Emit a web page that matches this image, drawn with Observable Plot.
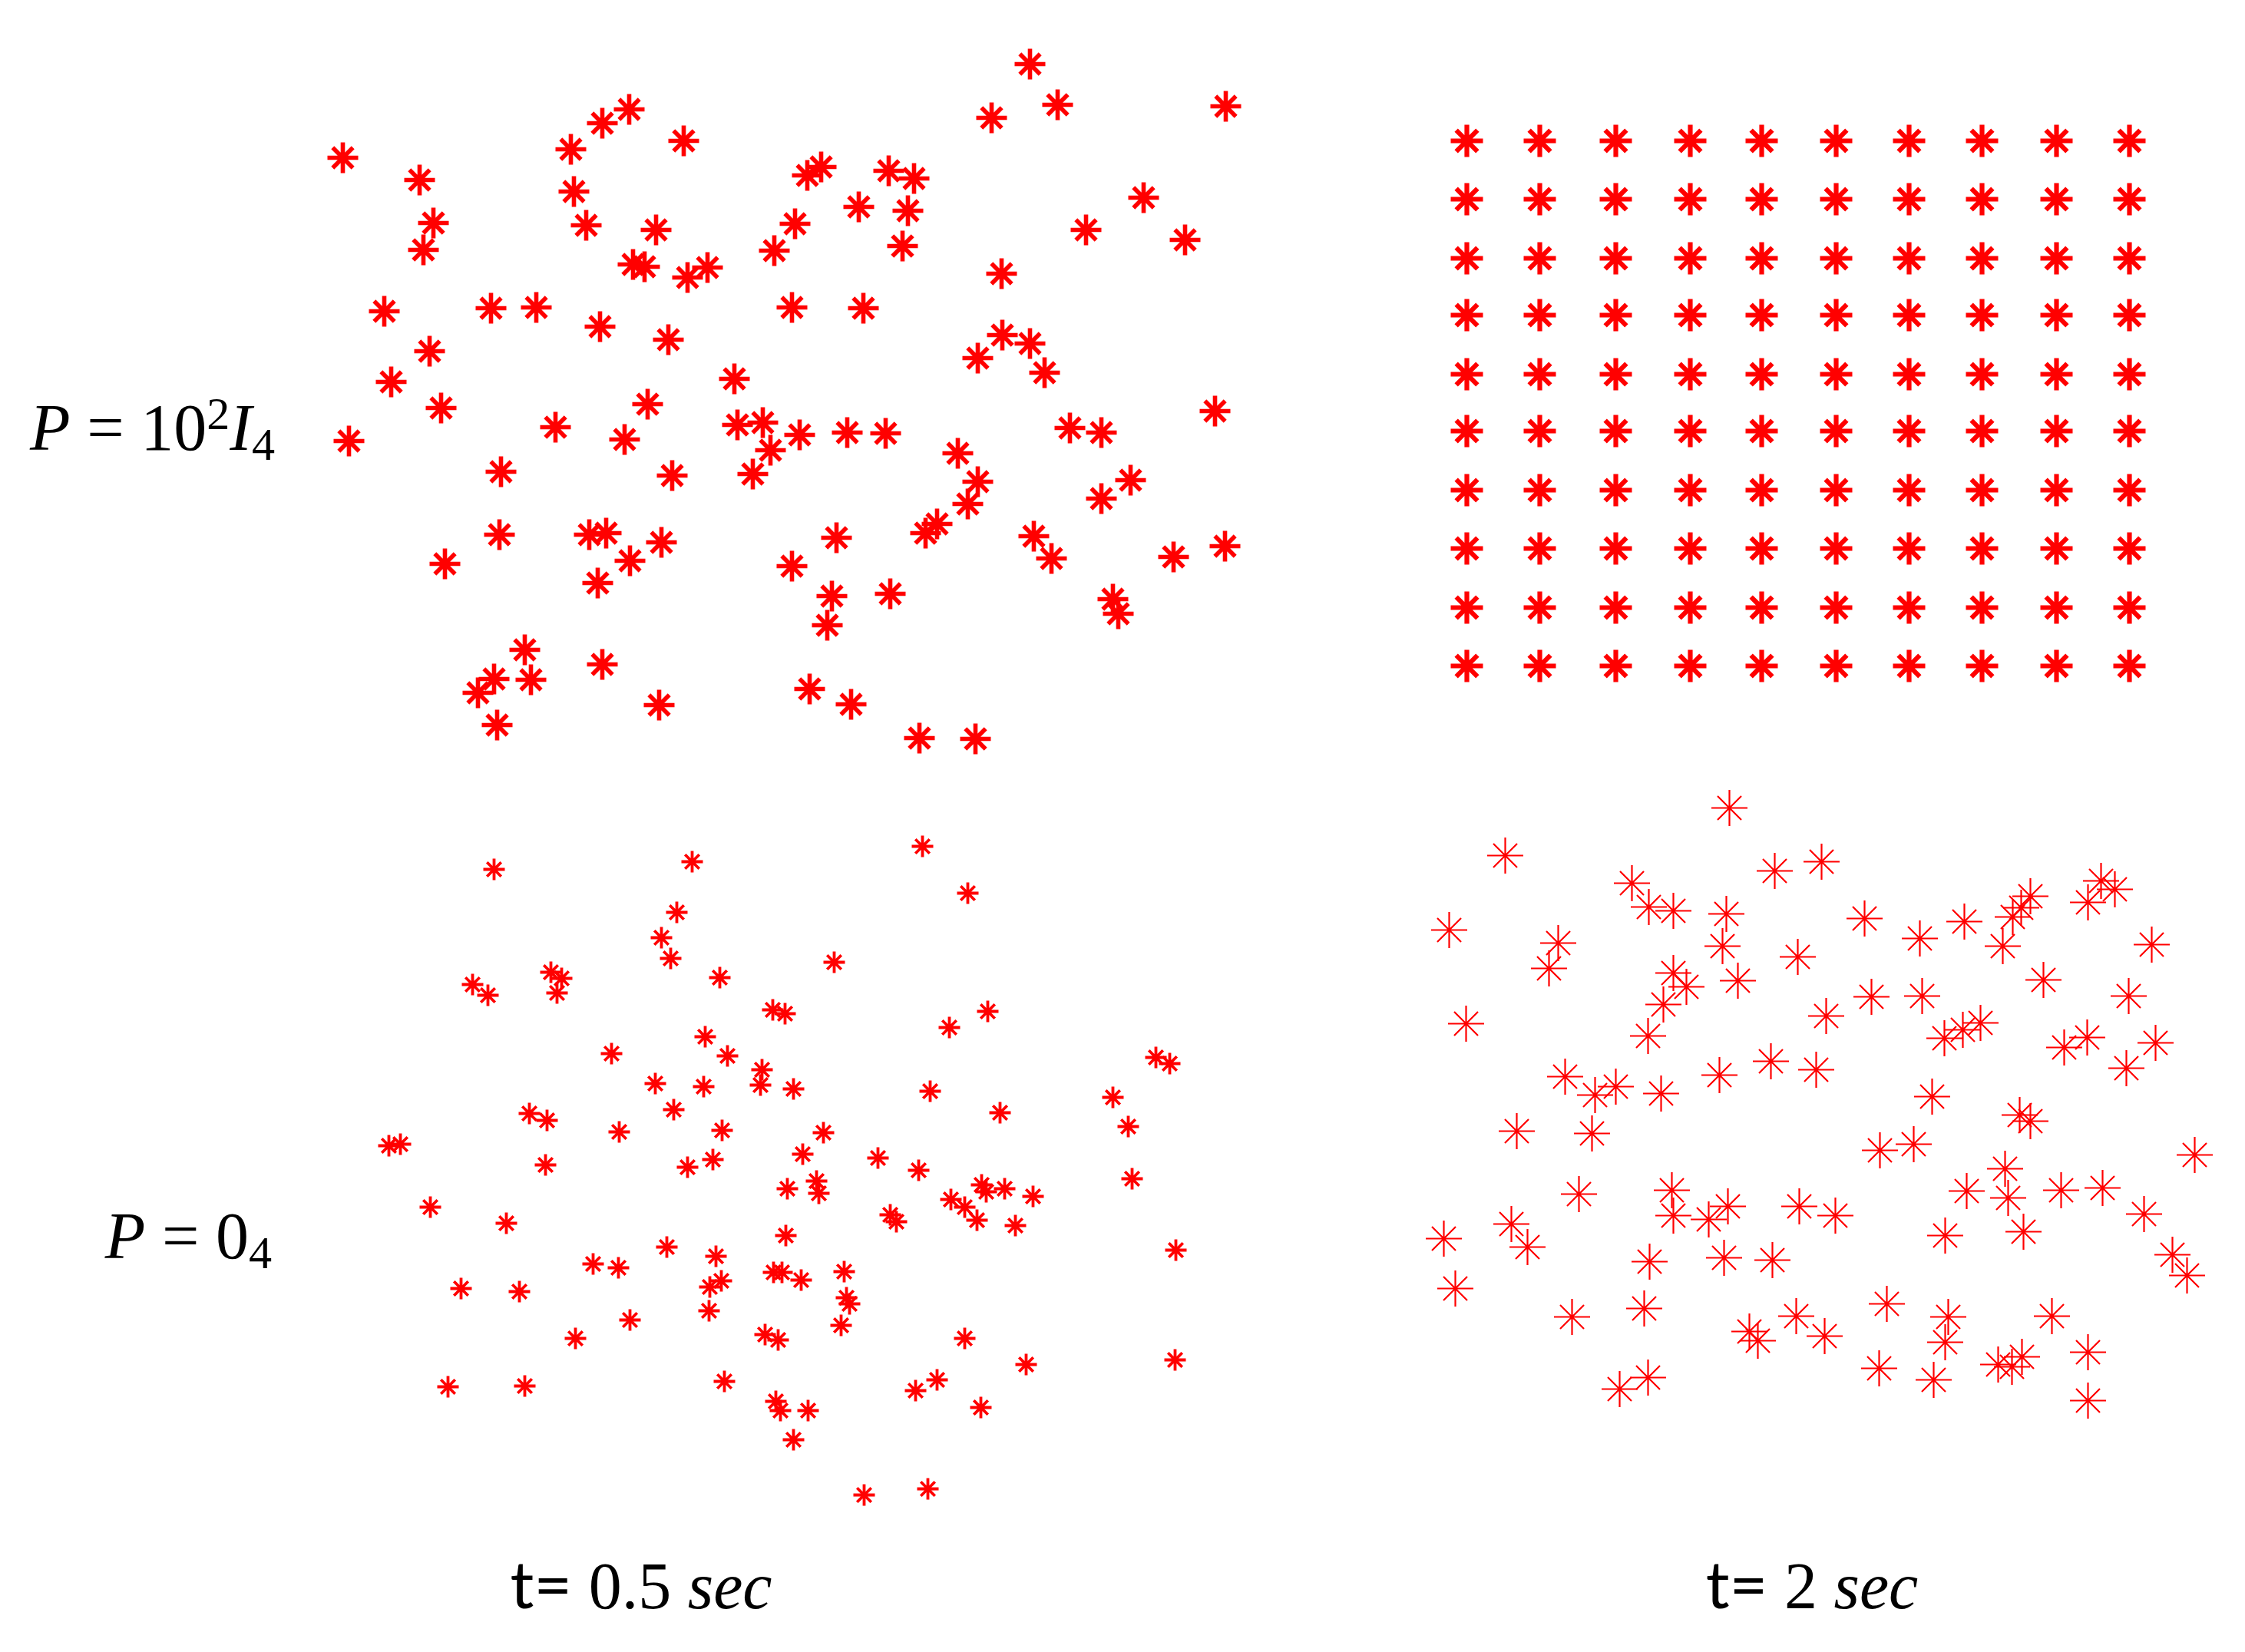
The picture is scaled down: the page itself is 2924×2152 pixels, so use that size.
<!DOCTYPE html>
<html><head><meta charset="utf-8">
<script src="https://cdn.jsdelivr.net/npm/d3@7"></script>
<script src="https://cdn.jsdelivr.net/npm/@observablehq/plot@0.6"></script>
<style>
html,body{margin:0;padding:0;background:#fff;}
#fig{position:relative;width:2924px;height:2152px;overflow:hidden;background:#fff;}
.lbl{position:absolute;white-space:nowrap;font-family:"Liberation Serif","DejaVu Serif",serif;font-size:86px;line-height:1;color:#000;}
.lbl sup{font-size:0.7em;vertical-align:0.45em;line-height:0;}
.lbl sub{font-size:0.7em;vertical-align:-0.22em;line-height:0;}
.sans{font-family:"Lato","Open Sans",sans-serif;}
</style></head><body><div id="fig"></div>
<script>
// positions (reference pixel units, y downward)
const topLeftXY = [[446,205],[546,234],[564,290],[551,325],[743,194],[784,160],[819,142],[890,183],[747,249],[763,293],[854,299],[824,344],[839,347],[895,361],[921,348],[1008,326],[500,405],[639,401],[698,400],[781,425],[870,442],[559,457],[509,497],[956,493],
[1341,83],[1377,136],[1291,153],[1596,138],[1051,228],[1069,217],[1157,222],[1190,232],[1118,269],[1182,274],[1035,291],[1175,320],[1489,257],[1414,299],[1543,312],[1304,356],[1031,400],[1124,401],[1305,436],[1341,447],[1273,466],[1360,485],
[454,574],[574,531],[723,556],[813,572],[843,526],[960,553],[993,550],[1003,586],[980,617],[652,614],[875,619],[650,696],[579,734],[767,696],[789,694],[861,706],[820,730],[778,759],[683,846],[643,884],[622,902],[691,885],[647,944],[784,865],[858,918],
[1041,566],[1103,563],[1153,564],[1247,590],[1273,627],[1260,656],[1220,682],[1205,694],[1089,700],[1031,737],[1393,557],[1434,563],[1582,535],[1472,625],[1434,649],[1346,698],[1369,727],[1528,725],[1595,711],[1083,776],[1077,814],[1159,773],[1449,780],[1456,799],[1054,897],[1108,917],[1197,961],[1270,962]];

const gridCols = [1910,2005,2104,2201,2294,2391,2486,2581,2678,2773];
const gridRows = [183,259,336,410,487,561,638,714,791,867];

const bottomLeftXY = [[643,1132],[901,1122],[881,1188],[861,1221],[873,1248],[937,1273],[615,1282],[635,1296],[717,1266],[731,1274],[725,1293],[1006,1315],[1022,1320],[918,1350],[947,1375],[796,1372],[992,1393],[990,1413],[853,1411],[916,1415],[877,1445],[940,1472],[806,1474],[689,1450],[712,1459],[506,1492],[521,1490],[710,1517],[895,1520],[928,1510],
[1201,1102],[1260,1163],[1086,1253],[1286,1317],[1236,1338],[1505,1377],[1523,1385],[1033,1418],[1211,1421],[1302,1449],[1449,1429],[1469,1467],[1072,1475],[1045,1503],[1143,1508],[1196,1524],
[560,1572],[659,1593],[600,1678],[676,1682],[772,1646],[805,1651],[868,1624],[932,1636],[939,1668],[924,1676],[923,1707],[820,1719],[749,1743],[583,1806],[683,1805],[943,1799],[996,1738],[1013,1745],[1007,1657],[1018,1657],[1010,1825],[1016,1837],
[1025,1548],[1063,1538],[1066,1554],[1278,1543],[1284,1552],[1308,1548],[1345,1558],[1474,1535],[1159,1582],[1167,1591],[1238,1562],[1256,1572],[1272,1589],[1322,1596],[1023,1609],[1531,1628],[1099,1656],[1043,1667],[1102,1690],[1106,1698],[1095,1726],[1256,1743],[1336,1777],[1530,1771],[1220,1797],[1192,1811],[1277,1833],[1052,1837],[1033,1875],[1125,1947],[1208,1939]];

const bottomRightXY = [[2252,1052],[1960,1114],[2125,1150],[2147,1181],[2179,1186],[2248,1190],[2311,1134],[2372,1122],[1887,1211],[2029,1228],[2017,1261],[2243,1232],[2341,1246],[2179,1267],[2196,1285],[2263,1277],[2166,1308],[2146,1349],[1909,1333],[2378,1323],[2038,1402],[2077,1426],[2104,1415],[2163,1424],[2239,1400],[2306,1382],[2365,1393],
[2428,1196],[2500,1222],[2558,1200],[2608,1232],[2621,1194],[2632,1182],[2644,1167],[2719,1175],[2736,1147],[2754,1158],[2802,1230],[2661,1276],[2437,1298],[2503,1297],[2532,1352],[2556,1341],[2579,1332],[2688,1364],[2718,1351],[2772,1297],[2807,1358],[2769,1391],[2516,1428],
[1975,1473],[2073,1476],[2056,1555],[2177,1550],[2179,1583],[2225,1588],[2250,1571],[2343,1571],[1880,1613],[1968,1594],[1989,1624],[2148,1643],[2245,1638],[2308,1641],[1895,1678],[2047,1715],[2141,1704],[2278,1734],[2289,1746],[2339,1714],[2109,1809],[2146,1794],
[2630,1452],[2644,1460],[2448,1498],[2492,1490],[2858,1504],[2611,1522],[2561,1551],[2615,1560],[2684,1550],[2738,1547],[2792,1581],[2390,1583],[2533,1609],[2635,1604],[2829,1634],[2848,1661],[2457,1698],[2537,1715],[2533,1748],[2376,1740],[2672,1714],[2447,1782],[2518,1797],[2602,1777],[2620,1780],[2633,1767],[2719,1761],[2719,1824]];

const rowLabels = ["P = 10²I₄", "P = 0₄"];
const colLabels = ["t= 0.5 sec", "t= 2 sec"];

// MATLAB-style eight-armed asterisk
const star = {
  draw(ctx, size) {
    const r = Math.sqrt(size / Math.PI), d = r * 0.66;
    ctx.moveTo(-r, 0); ctx.lineTo(r, 0);
    ctx.moveTo(0, -r); ctx.lineTo(0, r);
    ctx.moveTo(-d, -d); ctx.lineTo(d, d);
    ctx.moveTo(-d, d); ctx.lineTo(d, -d);
  }
};

const fig = document.getElementById("fig");
function panel(points, frame, r, sw) {
  const data = points.map(([x, y]) => ({x, y}));
  const [x0, x1, y0, y1] = frame;
  const svg = Plot.plot({
    width: x1 - x0, height: y1 - y0, margin: 0,
    x: {domain: [x0, x1], axis: null},
    y: {domain: [y0, y1], reverse: true, axis: null},
    style: {background: "transparent", overflow: "visible"},
    marks: [Plot.dot(data, {x: "x", y: "y", symbol: star, r, fill: "none", stroke: "#ff0000", strokeWidth: sw, strokeLinecap: "butt"})]
  });
  svg.style.position = "absolute";
  svg.style.left = x0 + "px";
  svg.style.top = y0 + "px";
  fig.appendChild(svg);
}
const gridXY = gridRows.flatMap(y => gridCols.map(x => [x, y]));

panel(topLeftXY, [400, 1640, 40, 1000], 20, 5.6);
panel(gridXY, [1850, 2840, 130, 920], 21, 6.2);
panel(bottomLeftXY, [460, 1580, 1080, 1980], 14, 3.8);
panel(bottomRightXY, [1830, 2900, 1010, 1860], 23.5, 2.2);

function label(html, css) {
  const d = document.createElement("div");
  d.className = "lbl";
  d.innerHTML = html;
  Object.assign(d.style, css);
  fig.appendChild(d);
}
label('<i>P</i> = 10<sup>2</sup><i>I</i><sub>4</sub>', {right: (2924 - 358) + "px", top: "514px", textAlign: "right"});
label('<i>P</i> = 0<sub>4</sub>', {right: (2924 - 354) + "px", top: "1567px", textAlign: "right"});
label('<span class="sans">t=</span> 0.5 <i>sec</i>', {left: "435px", width: "800px", top: "2019px", textAlign: "center"});
label('<span class="sans">t=</span> 2 <i>sec</i>', {left: "1960px", width: "800px", top: "2019px", textAlign: "center"});
</script>
</body></html>
